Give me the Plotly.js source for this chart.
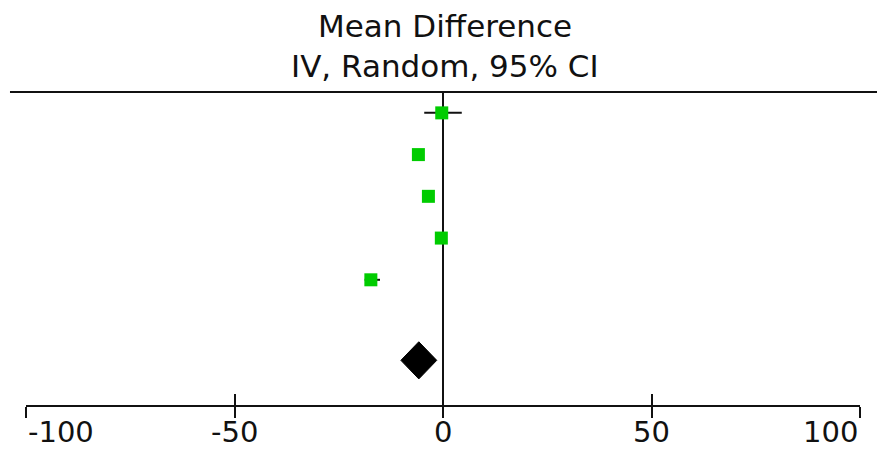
<!DOCTYPE html>
<html>
<head>
<meta charset="utf-8">
<script src="https://cdn.plot.ly/plotly-3.0.1.min.js"></script>
<style>html,body{margin:0;padding:0;background:#fff;}#chart{width:877px;height:450px;}</style>
</head>
<body>
<div id="chart"></div>
<script>
// Study rows (top to bottom)
var studyRows = [1, 2, 3, 4, 5];
var studyMean = [-0.3, -5.9, -3.5, -0.4, -17.3];
var studyLower = [-4.5, -7.0, -4.5, -1.4, -18.8];
var studyUpper = [4.5, -4.8, -2.5, 0.6, -15.1];

// Pooled estimate (diamond)
var pooledRow = 6.93;
var pooledMean = -5.8;
var pooledLower = -10.1;
var pooledUpper = -1.5;

// Axis ticks
var tickValues = [-100, -50, 0, 50, 100];
var tickLabels = ['-100', '-50', '0', '50', '100'];

var titleLines = ['Mean Difference', 'IV, Random, 95% CI'];

var green = '#00cc00';
var halfH = 0.445;

var studies = {
  type: 'scatter', mode: 'markers',
  x: studyMean, y: studyRows,
  marker: {symbol: 'square', size: 13, color: green, line: {width: 0}},
  error_x: {
    type: 'data', symmetric: false,
    array: studyUpper.map(function(u, i){ return u - studyMean[i]; }),
    arrayminus: studyLower.map(function(l, i){ return studyMean[i] - l; }),
    color: '#111', thickness: 2, width: 0
  },
  hoverinfo: 'x', showlegend: false
};

var diamond = {
  type: 'scatter', mode: 'lines',
  x: [pooledLower, pooledMean, pooledUpper, pooledMean, pooledLower],
  y: [pooledRow, pooledRow - halfH, pooledRow, pooledRow + halfH, pooledRow],
  fill: 'toself', fillcolor: '#000', line: {color: '#000', width: 1},
  hoverinfo: 'skip', showlegend: false
};

var font = 'DejaVu Sans, sans-serif';
var annotations = [];
titleLines.forEach(function(t, i){
  annotations.push({
    text: t, xref: 'paper', yref: 'paper', x: 0.5024, y: i === 0 ? 1.212 : 1.0845,
    xanchor: 'center', yanchor: 'middle', showarrow: false,
    font: {family: font, size: 31, color: '#111'}
  });
});
tickValues.forEach(function(v, i){
  var anchor = i === 0 ? 'left' : (i === tickValues.length - 1 ? 'right' : 'center');
  annotations.push({
    text: tickLabels[i], xref: 'x', yref: 'paper', x: v, y: -0.086,
    xanchor: anchor, yanchor: 'middle', showarrow: false,
    font: {family: font, size: 29, color: '#111'}
  });
});

var axisCommon = {
  range: [-100, 100], tickvals: tickValues, showticklabels: false,
  showgrid: false, tickwidth: 2, ticklen: 11, tickcolor: '#111'
};

var layout = {
  width: 877, height: 450,
  margin: {l: 26, r: 17, t: 92, b: 45, pad: 0},
  paper_bgcolor: '#fff', plot_bgcolor: '#fff',
  xaxis: Object.assign({}, axisCommon, {
    ticks: 'outside', showline: true, linecolor: '#111', linewidth: 2,
    zeroline: true, zerolinecolor: '#111', zerolinewidth: 2
  }),
  xaxis2: Object.assign({}, axisCommon, {
    ticks: 'inside', overlaying: 'x', anchor: 'y', side: 'bottom',
    showline: false, zeroline: false
  }),
  yaxis: {range: [8, 0.5], showgrid: false, zeroline: false, showticklabels: false, ticks: '', showline: false},
  shapes: [{
    type: 'line', xref: 'paper', yref: 'paper', x0: -0.0192, x1: 1.0204, y0: 1, y1: 1,
    line: {color: '#111', width: 2}
  }],
  annotations: annotations,
  showlegend: false
};

var dummy = {type: 'scatter', mode: 'markers', x: [0], y: [0.5], xaxis: 'x2', yaxis: 'y',
  marker: {opacity: 0}, hoverinfo: 'skip', showlegend: false};

Plotly.newPlot('chart', [dummy, diamond, studies], layout, {displayModeBar: false, staticPlot: true});
</script>
</body>
</html>
